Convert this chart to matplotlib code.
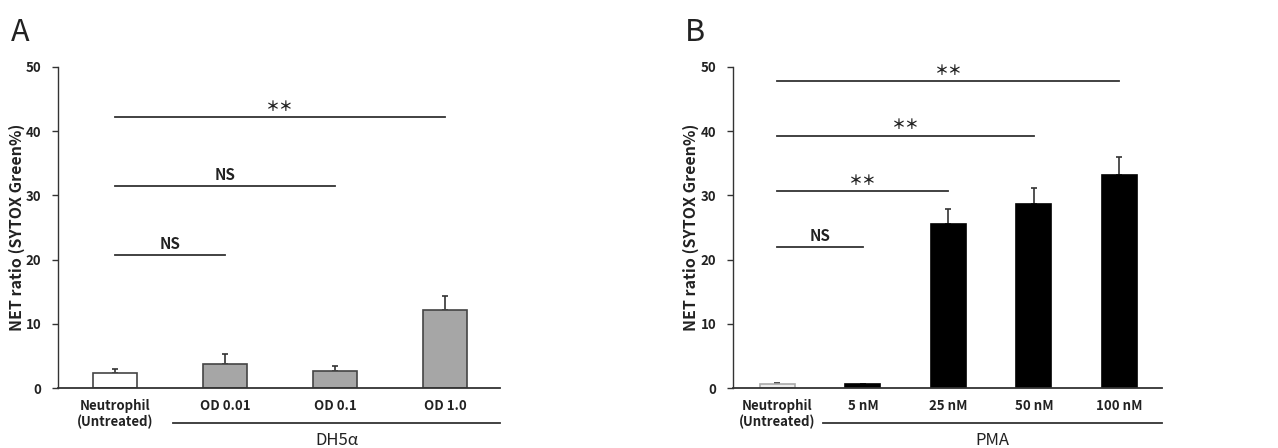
import matplotlib
matplotlib.use("Agg")
import matplotlib.pyplot as plt

plt.rcParams['font.family'] = ['Noto Sans CJK JP', 'DejaVu Sans']

# panel A data
a_labels = ['Neutrophil\n(Untreated)', 'OD 0.01', 'OD 0.1', 'OD 1.0']
a_values = [2.3, 3.7, 2.6, 12.1]
a_errors = [0.6, 1.6, 0.8, 2.2]
a_colors = ['white', '#a6a6a6', '#a6a6a6', '#a6a6a6']
a_group = 'DH5α'
# (from bar, to bar, height, text)
a_sig = [(0, 3, 42.2, '＊＊'), (0, 2, 31.5, 'NS'), (0, 1, 20.7, 'NS')]

# panel B data
b_labels = ['Neutrophil\n(Untreated)', '5 nM', '25 nM', '50 nM', '100 nM']
b_values = [0.7, 0.55, 25.6, 28.7, 33.1]
b_errors = [0.1, 0.1, 2.3, 2.4, 2.9]
b_colors = ['#eeeeee', 'black', 'black', 'black', 'black']
b_edges = ['#aaaaaa', 'black', 'black', 'black', 'black']
b_group = 'PMA'
b_sig = [(0, 4, 47.8, '＊＊'), (0, 3, 39.3, '＊＊'), (0, 2, 30.7, '＊＊'), (0, 1, 22.0, 'NS')]

W, H = 1278, 448
fig = plt.figure(figsize=(W / 100, H / 100), dpi=100)

line_c = '#333333'
text_c = '#222222'


def panel(rect, labels, values, errors, colors, edges, width, sig, group,
          letter, letter_x, ylab_x):
    ax = fig.add_axes(rect)
    x = list(range(len(values)))
    ax.bar(x, values, width=width, color=colors, edgecolor=edges, linewidth=1.2, zorder=2)
    ax.errorbar(x, values, yerr=[[0] * len(errors), errors], fmt='none',
                ecolor=line_c, elinewidth=1.2, capsize=2, capthick=1.2, zorder=1)
    n = len(values)
    ax.set_xlim(-0.52, n - 0.5)
    ax.set_ylim(0, 50)
    ax.set_yticks([0, 10, 20, 30, 40, 50])
    for s in ('top', 'right'):
        ax.spines[s].set_visible(False)
    ax.spines['left'].set_color(line_c)
    ax.spines['bottom'].set_color(line_c)
    ax.spines['left'].set_linewidth(1.0)
    ax.spines['bottom'].set_linewidth(1.3)
    ax.tick_params(axis='y', length=4, width=1.0, color=line_c, labelsize=9.5, pad=8)
    ax.tick_params(axis='x', length=0, labelsize=9.5, pad=8)
    ax.set_xticks(x)
    ax.set_xticklabels(labels, linespacing=1.1)
    for t in ax.get_xticklabels() + ax.get_yticklabels():
        t.set_fontweight('bold')
        t.set_color(text_c)
    ax.set_ylabel('NET ratio (SYTOX Green%)', fontsize=11.5, fontweight='bold',
                  color=text_c)
    ax.yaxis.set_label_coords(ylab_x, 0.5)
    for i0, i1, h, txt in sig:
        ax.plot([i0, i1], [h, h], color=line_c, lw=1.3, clip_on=False)
        ax.text((i0 + i1) / 2, h + 0.5, txt, ha='center', va='bottom',
                fontsize=11 if txt == 'NS' else 10, fontweight='bold', color=text_c)
    # group line below tick labels
    ax.plot([0.53, n - 0.5], [-5.5, -5.5], color=line_c, lw=1.3, clip_on=False)
    ax.text((0.53 + n - 0.5) / 2, -6.8, group, ha='center', va='top',
            fontsize=12, color=text_c)
    fig.text(letter_x, 0.962, letter, fontsize=22, color=text_c, va='top', ha='left')
    return ax


bottom = 1 - 388 / H
top = 1 - 67 / H
panel([58 / W, bottom, (500 - 58) / W, top - bottom], a_labels, a_values, a_errors,
      a_colors, ['#444444'] * 4, 0.4, a_sig, a_group, 'A', 11 / W, -0.075)
panel([733 / W, bottom, (1162 - 733) / W, top - bottom], b_labels, b_values, b_errors,
      b_colors, b_edges, 0.41, b_sig, b_group, 'B', 685 / W, -0.079)

fig.savefig('out.png', dpi=100)
